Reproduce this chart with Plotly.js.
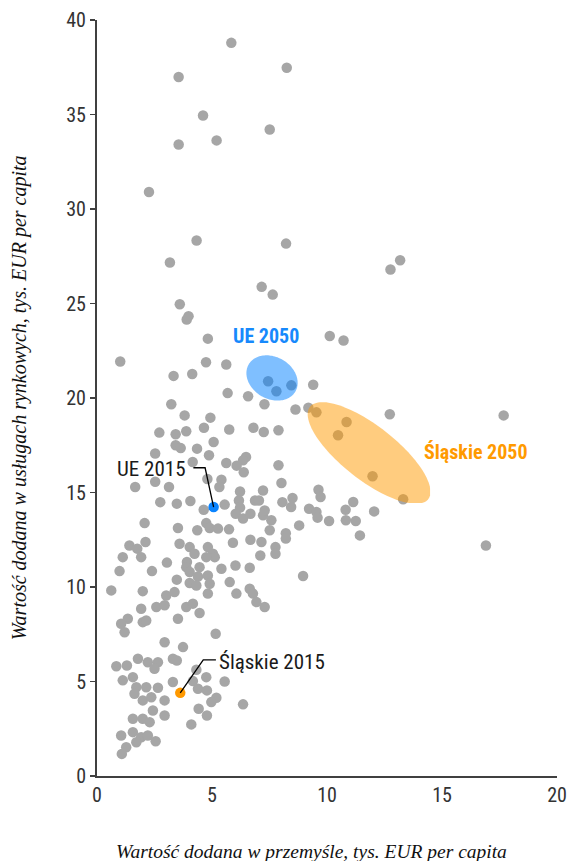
<!DOCTYPE html>
<html>
<head>
<meta charset="utf-8">
<script src="https://cdn.plot.ly/plotly-3.0.1.min.js"></script>
<style>html,body{margin:0;padding:0;background:#fff;}#chart{width:571px;height:861px;}</style>
</head>
<body>
<div id="chart"></div>
<script>
// Regions: value added in industry (x) vs market services (y), thousand EUR per capita
const regionsX = [
5.84,8.25,3.55,4.61,7.51,3.55,5.20,2.26,4.33,8.22,3.17,7.16,7.64,3.60,3.98,3.90,4.82,10.12,10.72,13.18,12.76,9.40,
1.01,4.74,5.62,3.33,4.14,5.68,6.57,7.44,7.80,8.45,
3.23,7.28,8.63,9.19,9.54,3.81,4.93,
2.71,3.42,3.88,4.65,5.75,6.80,7.25,7.89,
5.07,3.42,3.64,4.35,2.53,4.87,6.48,6.35,
4.16,5.62,6.07,6.38,7.89,
4.80,5.41,5.32,1.66,2.53,3.13,6.22,7.22,8.02,
9.63,9.72,
2.75,3.47,4.06,4.64,5.55,6.17,6.22,6.03,6.35,6.67,6.87,7.04,7.22,7.29,7.58,8.06,8.50,8.44,9.22,9.54,9.59,10.09,
2.07,3.52,4.36,4.75,4.90,5.26,5.74,7.51,8.21,8.21,8.79,
1.41,1.75,2.11,1.92,1.12,3.59,4.03,4.24,4.82,5.04,5.12,4.75,5.91,6.67,7.15,7.10,7.76,7.76,
3.04,3.91,3.88,4.46,5.41,6.02,6.64,
0.98,2.39,4.03,3.47,4.39,4.82,8.96,5.77,4.03,4.32,4.90,
0.62,1.99,3.01,3.37,4.82,6.06,6.64,6.78,
1.92,2.58,2.94,3.88,4.17,4.46,3.52,1.34,1.05,1.20,1.99,2.14,6.93,7.29,5.16,2.94,3.74,
1.78,2.21,2.65,3.30,3.47,0.84,1.30,2.50,4.32,
1.12,1.56,1.71,2.14,2.65,3.30,4.17,4.75,5.55,
4.39,4.78,5.19,4.97,6.35,1.63,1.99,2.36,2.94,2.43,2.94,4.42,4.78,4.10,
1.56,1.99,2.29,1.05,1.56,1.92,2.21,2.55,1.27,1.08,1.71,
10.85,10.48,11.98,13.31,12.73,17.68,11.14,10.81,12.05,10.82,11.25,11.43,16.91
];
const regionsY = [
38.79,37.47,36.98,34.95,34.21,33.41,33.63,30.90,28.33,28.17,27.17,25.88,25.47,24.96,24.33,24.15,23.14,23.28,23.04,27.29,26.80,20.70,
21.93,21.89,21.77,21.17,21.27,20.26,20.09,20.89,20.36,20.67,
19.67,19.67,19.39,19.49,19.24,19.08,18.96,
18.17,18.08,18.24,18.43,18.33,18.43,18.20,18.29,
17.67,17.50,17.35,17.32,17.06,16.97,16.88,16.70,
16.61,16.56,16.42,16.07,16.44,
15.71,15.68,15.29,15.29,15.57,15.29,15.05,15.11,15.50,
15.15,14.76,
14.49,14.41,14.55,14.09,14.36,14.58,14.20,13.88,13.62,13.88,14.58,14.58,13.79,14.05,13.53,14.49,14.71,14.23,14.14,13.97,13.67,13.49,
13.38,13.12,13.00,13.38,13.12,13.09,13.05,13.00,12.85,12.56,13.26,
12.20,12.03,12.38,11.58,11.58,12.29,12.11,11.76,12.11,11.76,11.58,11.58,12.34,12.50,12.38,11.67,12.11,11.76,
11.29,11.32,11.05,11.05,10.97,11.14,11.02,
10.84,10.84,10.79,10.39,10.56,10.61,10.58,10.26,10.21,10.08,10.17,
9.82,9.78,9.55,9.73,9.65,9.65,9.91,9.65,
8.85,8.94,9.03,8.94,9.12,8.62,8.32,8.32,8.06,7.61,8.14,8.23,9.20,8.94,7.53,7.08,6.82,
6.20,6.02,6.02,6.20,6.11,5.81,5.85,5.67,5.62,
5.06,5.23,4.70,4.70,4.67,4.97,5.02,5.23,5.00,
4.62,4.53,4.14,3.91,3.79,4.35,4.00,4.17,4.00,3.47,3.20,3.56,3.20,2.73,
3.03,3.03,2.85,2.14,2.32,2.05,2.14,1.84,1.52,1.17,1.79,
18.73,18.03,15.86,14.64,19.14,19.08,14.50,14.09,14.00,13.53,13.49,12.73,12.20
];
// highlighted observations
const ue2015X = [5.07], ue2015Y = [14.23];
const sl2015X = [3.62], sl2015Y = [4.40];
// 2050 target zones (centre in data units)
const ue2050Center = [7.61, 21.06];
const sl2050Center = [11.83, 17.09];
const xTicks = [0, 5, 10, 15, 20];
const yTicks = [0, 5, 10, 15, 20, 25, 30, 35, 40];
const labels = {
  ue2050: 'UE 2050', sl2050: 'Śląskie 2050', ue2015: 'UE 2015', sl2015: 'Śląskie 2015',
  xTitle: 'Wartość dodana w przemyśle, tys. EUR per capita',
  yTitle: 'Wartość dodana w usługach rynkowych, tys. EUR per capita'
};

const W = 571, H = 861;
const M = {l: 97, r: 14, t: 20, b: 85};
const xRange = [0, 20], yRange = [0, 40];
const kx = (W - M.l - M.r) / (xRange[1] - xRange[0]);
const ky = (H - M.t - M.b) / (yRange[1] - yRange[0]);

function ellipsePath(c, a, b, angDeg, clipX, clipY) {
  const th = angDeg * Math.PI / 180;
  let d = '';
  const n = 120;
  for (let i = 0; i <= n; i++) {
    const t = 2 * Math.PI * i / n;
    const dx = a * Math.cos(t) * Math.cos(th) - b * Math.sin(t) * Math.sin(th);
    const dy = a * Math.cos(t) * Math.sin(th) + b * Math.sin(t) * Math.cos(th);
    let x = c[0] + dx / kx;
    let y = c[1] - dy / ky;
    if (clipX !== null) x = Math.min(x, clipX);
    if (clipY !== null) y = Math.max(y, clipY);
    d += (i ? 'L' : 'M') + x.toFixed(4) + ',' + y.toFixed(4);
  }
  return d + 'Z';
}
function leader(pts) {
  return pts.map((p, i) => (i ? 'L' : 'M') + p[0] + ',' + p[1]).join('');
}

const narrow = "'Liberation Sans Narrow', 'Arial Narrow', 'Roboto Condensed', sans-serif";
const serif = "'Liberation Serif', 'Times New Roman', serif";
const axisCol = '#404040';

const traces = [
  {x: regionsX, y: regionsY, type: 'scatter', mode: 'markers',
   marker: {color: '#a6a6a6', size: 10.5, line: {width: 0}}, hoverinfo: 'x+y'},
  {x: ue2015X, y: ue2015Y, type: 'scatter', mode: 'markers',
   marker: {color: '#0a84ff', size: 10.5, line: {width: 0}}},
  {x: sl2015X, y: sl2015Y, type: 'scatter', mode: 'markers',
   marker: {color: '#ff9900', size: 10.5, line: {width: 0}}}
];

const layout = {
  width: W, height: H, margin: M,
  paper_bgcolor: '#fff', plot_bgcolor: '#fff',
  showlegend: false,
  xaxis: {range: xRange, tickvals: xTicks, ticktext: xTicks.map(String),
    showline: true, linecolor: axisCol, linewidth: 2, ticks: '', showgrid: false, zeroline: false,
    tickfont: {family: narrow, size: 20, color: '#333'}, fixedrange: true},
  yaxis: {range: yRange, tickvals: yTicks, ticktext: yTicks.map(String),
    showline: true, linecolor: axisCol, linewidth: 2, ticks: 'outside', ticklen: 5, tickwidth: 1.5, tickcolor: axisCol,
    showgrid: false, zeroline: false,
    tickfont: {family: narrow, size: 20, color: '#333'}, fixedrange: true},
  shapes: [
    {type: 'path', xref: 'x', yref: 'y', layer: 'above',
     path: ellipsePath(ue2050Center, 27, 21, 30, 8.74, null),
     fillcolor: 'rgba(0,128,255,0.5)', line: {width: 0}},
    {type: 'path', xref: 'x', yref: 'y', layer: 'above',
     path: ellipsePath(sl2050Center, 75, 27, 38, 14.48, 14.44),
     fillcolor: 'rgba(255,153,0,0.5)', line: {width: 0}},
    {type: 'path', xref: 'x', yref: 'y', layer: 'above',
     path: leader([[4.19, 16.31], [4.70, 16.31], [ue2015X[0], ue2015Y[0]]]),
     line: {color: '#000', width: 1.3}},
    {type: 'path', xref: 'x', yref: 'y', layer: 'above',
     path: leader([[5.17, 6.14], [4.62, 6.14], [sl2015X[0], sl2015Y[0]]]),
     line: {color: '#000', width: 1.3}}
  ],
  annotations: [
    {x: 7.35, y: 23.28, xref: 'x', yref: 'y', text: '<b>' + labels.ue2050 + '</b>', showarrow: false,
     font: {family: narrow, size: 20, color: '#1789fc'}},
    {x: 16.48, y: 17.14, xref: 'x', yref: 'y', text: '<b>' + labels.sl2050 + '</b>', showarrow: false,
     font: {family: narrow, size: 20, color: '#ff9a00'}},
    {x: 2.35, y: 16.24, xref: 'x', yref: 'y', text: labels.ue2015, showarrow: false,
     font: {family: narrow, size: 21, color: '#1a1a1a'}},
    {x: 7.63, y: 6.05, xref: 'x', yref: 'y', text: labels.sl2015, showarrow: false,
     font: {family: narrow, size: 21, color: '#1a1a1a'}},
    {x: 0.466, y: -0.1005, xref: 'paper', yref: 'paper', text: '<i>' + labels.xTitle + '</i>', showarrow: false,
     xanchor: 'center', yanchor: 'middle', font: {family: serif, size: 19.5, color: '#111'}},
    {x: -0.1696, y: 0.501, xref: 'paper', yref: 'paper', text: '<i>' + labels.yTitle + '</i>', showarrow: false,
     textangle: -90, xanchor: 'center', yanchor: 'middle', font: {family: serif, size: 20, color: '#111'}}
  ]
};

Plotly.newPlot('chart', traces, layout, {displayModeBar: false, staticPlot: true});
</script>
</body>
</html>
